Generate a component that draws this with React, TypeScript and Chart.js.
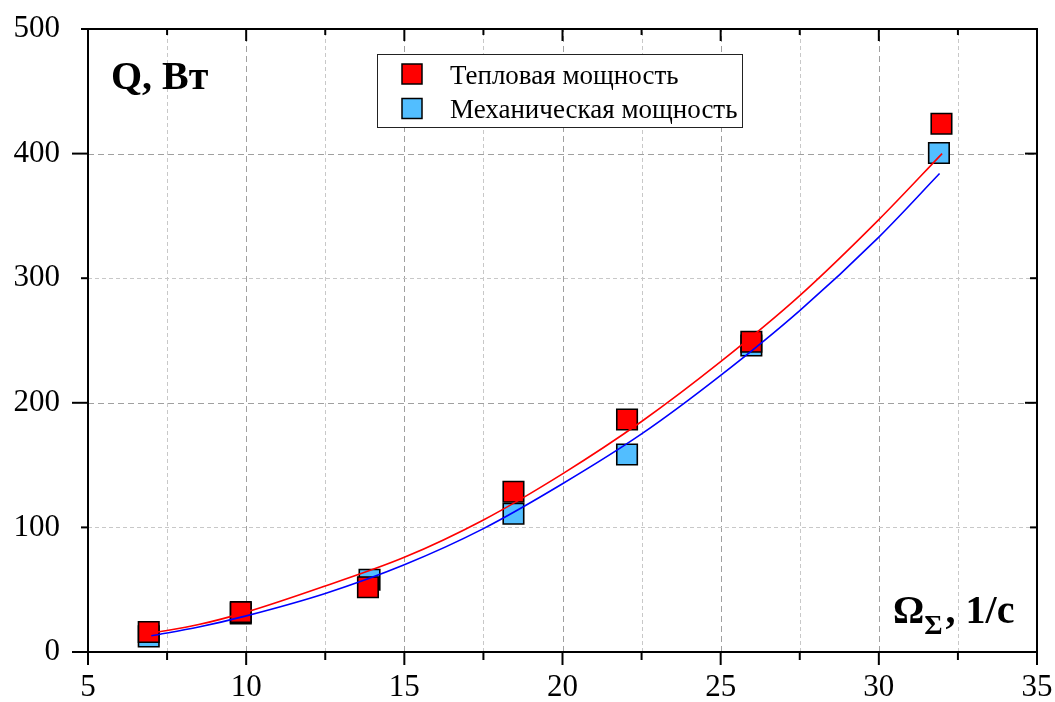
import React, { useEffect, useRef } from "react";
import { Chart, registerables } from "chart.js";

Chart.register(...registerables);

// ---- data ----
const heatX = [6.92, 9.83, 13.85, 18.45, 22.04, 25.97, 31.98];
const heatY = [16, 32, 52, 128.6, 186.6, 249, 424];
const mechX = [6.92, 9.83, 13.9, 18.45, 22.04, 25.97, 31.9];
const mechY = [12.5, 31, 58, 111, 158.5, 246, 400.5];

const heatFitX = [7, 8.5, 10, 12.5, 15, 17.5, 20, 22.5, 25, 27.5, 30, 32];
const heatFitY = [15, 22, 32, 53, 76, 106, 143, 185, 233, 286, 347, 400];
const mechFitX = [7, 8.5, 10, 12.5, 15, 17.5, 20, 22.5, 25, 27.5, 30, 31.92];
const mechFitY = [13, 20, 29, 47, 70, 99, 135, 175, 222, 274, 333, 384];

const seriesNames = ["Тепловая мощность", "Механическая мощность"];
const xTickValues = [5, 10, 15, 20, 25, 30, 35];
const xMinorTicks = [7.5, 12.5, 17.5, 22.5, 27.5, 32.5];
const yTickValues = [0, 100, 200, 300, 400, 500];
const yMajorTicks = [0, 200, 400];
const yMinorTicks = [100, 300, 500];
const yTitle = "Q, Вт";
const xTitleMain = "Ω";
const xTitleSub = "Σ";
const xTitleRest = ", 1/c";

const RED = "#ff0000";
const BLUE_FILL = "#52beff";
const SERIF = "'Liberation Serif', serif";

Chart.defaults.font.family = SERIF;

const toPoints = (xs: number[], ys: number[]) => xs.map((x, i) => ({ x, y: ys[i] }));

const zeroPad = (s: any) => {
  s.paddingTop = 0;
  s.paddingBottom = 0;
  s.paddingLeft = 0;
  s.paddingRight = 0;
};

const decorPlugin = {
  id: "decor",
  beforeDatasetsDraw(chart: any) {
    const { ctx, chartArea: a, scales } = chart;
    const xs = scales.x;
    const ys = scales.y;
    ctx.save();
    ctx.lineWidth = 1;
    const vline = (v: number, major: boolean) => {
      const p = Math.round(xs.getPixelForValue(v)) + 0.5;
      ctx.strokeStyle = major ? "#a0a0a0" : "#c8c8c8";
      ctx.setLineDash(major ? [6, 4] : [4, 3]);
      ctx.beginPath();
      ctx.moveTo(p, a.bottom);
      ctx.lineTo(p, a.top);
      ctx.stroke();
    };
    const hline = (v: number, major: boolean) => {
      const p = Math.round(ys.getPixelForValue(v)) + 0.5;
      ctx.strokeStyle = major ? "#a0a0a0" : "#c8c8c8";
      ctx.setLineDash(major ? [6, 4] : [4, 3]);
      ctx.beginPath();
      ctx.moveTo(a.left, p);
      ctx.lineTo(a.right, p);
      ctx.stroke();
    };
    xTickValues.slice(1, -1).forEach((v) => vline(v, true));
    xMinorTicks.forEach((v) => vline(v, false));
    yMajorTicks.filter((v) => v > 0 && v < 500).forEach((v) => hline(v, true));
    yMinorTicks.filter((v) => v > 0 && v < 500).forEach((v) => hline(v, false));
    ctx.restore();
  },
  afterDatasetsDraw(chart: any) {
    const { ctx, chartArea: a, scales } = chart;
    const xs = scales.x;
    const ys = scales.y;
    ctx.save();
    ctx.setLineDash([]);
    ctx.strokeStyle = "#000";
    ctx.lineWidth = 2;
    ctx.strokeRect(a.left, a.top, a.right - a.left, a.bottom - a.top);

    const tick = (x1: number, y1: number, x2: number, y2: number) => {
      ctx.beginPath();
      ctx.moveTo(x1, y1);
      ctx.lineTo(x2, y2);
      ctx.stroke();
    };
    xTickValues.forEach((v) => {
      const p = xs.getPixelForValue(v);
      tick(p, a.bottom, p, a.bottom + 13);
      tick(p, a.top, p, a.top + 12);
    });
    xMinorTicks.forEach((v) => {
      const p = xs.getPixelForValue(v);
      tick(p, a.bottom, p, a.bottom + 8);
      tick(p, a.top, p, a.top + 6);
    });
    yMajorTicks.forEach((v) => {
      const p = ys.getPixelForValue(v);
      tick(a.left - 16, p, a.left, p);
      tick(a.right - 12, p, a.right, p);
    });
    yMinorTicks.forEach((v) => {
      const p = ys.getPixelForValue(v);
      tick(a.left - 7, p, a.left, p);
      tick(a.right - 7, p, a.right, p);
    });

    ctx.fillStyle = "#000";
    ctx.textBaseline = "alphabetic";
    ctx.textAlign = "left";
    ctx.font = `bold 40px ${SERIF}`;
    ctx.fillText(yTitle, 111, 89);

    let tx = 893;
    ctx.font = `bold 39px ${SERIF}`;
    ctx.fillText(xTitleMain, tx, 623);
    tx += ctx.measureText(xTitleMain).width;
    ctx.font = `bold 28px ${SERIF}`;
    ctx.fillText(xTitleSub, tx, 634);
    tx += ctx.measureText(xTitleSub).width + 3;
    ctx.font = `bold 40px ${SERIF}`;
    ctx.fillText(xTitleRest, tx, 623);

    ctx.lineWidth = 1;
    ctx.strokeStyle = "#222";
    ctx.fillStyle = "#fff";
    ctx.fillRect(377, 54, 365, 73);
    ctx.strokeRect(377.5, 54.5, 365, 73);
    const entries = [
      { name: seriesNames[0], fill: RED, cy: 74 },
      { name: seriesNames[1], fill: BLUE_FILL, cy: 108.5 },
    ];
    entries.forEach((e) => {
      ctx.fillStyle = e.fill;
      ctx.fillRect(402, e.cy - 10, 20, 20);
      ctx.lineWidth = 1.5;
      ctx.strokeStyle = "#000";
      ctx.strokeRect(402, e.cy - 10, 20, 20);
      ctx.fillStyle = "#000";
      ctx.font = `27px ${SERIF}`;
      ctx.textBaseline = "alphabetic";
      ctx.fillText(e.name, 450, e.cy + 9.5);
    });
    ctx.restore();
  },
};

export default function App() {
  const canvasRef = useRef<HTMLCanvasElement | null>(null);

  useEffect(() => {
    if (!canvasRef.current) return;
    const tickFont = { family: SERIF, size: 31, style: "normal", weight: "normal", lineHeight: 1.2 };
    const chart = new Chart(canvasRef.current, {
      type: "scatter",
      data: {
        datasets: [
          {
            label: seriesNames[1],
            data: toPoints(mechX, mechY),
            pointStyle: "rect",
            pointRadius: 14.5,
            pointBackgroundColor: BLUE_FILL,
            pointBorderColor: "#000",
            pointBorderWidth: 1.6,
            showLine: false,
            order: 4,
          },
          {
            label: seriesNames[0],
            data: toPoints(heatX, heatY),
            pointStyle: "rect",
            pointRadius: 14.5,
            pointBackgroundColor: RED,
            pointBorderColor: "#000",
            pointBorderWidth: 1.6,
            showLine: false,
            order: 3,
          },
          {
            label: seriesNames[0] + " fit",
            data: toPoints(heatFitX, heatFitY),
            showLine: true,
            pointRadius: 0,
            borderColor: RED,
            borderWidth: 1.6,
            cubicInterpolationMode: "monotone",
            order: 2,
          },
          {
            label: seriesNames[1] + " fit",
            data: toPoints(mechFitX, mechFitY),
            showLine: true,
            pointRadius: 0,
            borderColor: "#0000ff",
            borderWidth: 1.6,
            cubicInterpolationMode: "monotone",
            order: 1,
          },
        ],
      },
      options: {
        animation: false,
        responsive: true,
        maintainAspectRatio: false,
        layout: { padding: { top: 29, right: 18, left: 0, bottom: 0 } },
        plugins: { legend: { display: false }, tooltip: { enabled: false } },
        scales: {
          x: {
            type: "linear",
            min: 5,
            max: 35,
            grid: { display: false, drawTicks: false },
            border: { display: false },
            afterBuildTicks: (s: any) => {
              s.ticks = xTickValues.map((v) => ({ value: v }));
            },
            afterFit: (s: any) => {
              s.height = 50;
              zeroPad(s);
            },
            ticks: {
              autoSkip: false,
              maxRotation: 0,
              padding: 17,
              color: "#000",
              font: tickFont,
            },
          },
          y: {
            type: "linear",
            min: 0,
            max: 500,
            grid: { display: false, drawTicks: false },
            border: { display: false },
            afterBuildTicks: (s: any) => {
              s.ticks = yTickValues.map((v) => ({ value: v }));
            },
            afterFit: (s: any) => {
              s.width = 88;
              zeroPad(s);
            },
            ticks: {
              autoSkip: false,
              padding: 28,
              color: "#000",
              font: tickFont,
            },
          },
        },
      },
      plugins: [decorPlugin],
    } as any);
    return () => chart.destroy();
  }, []);

  return (
    <div
      style={{
        position: "fixed",
        left: 0,
        top: 0,
        width: 1055,
        height: 702,
        background: "#fff",
      }}
    >
      <canvas ref={canvasRef} />
    </div>
  );
}
